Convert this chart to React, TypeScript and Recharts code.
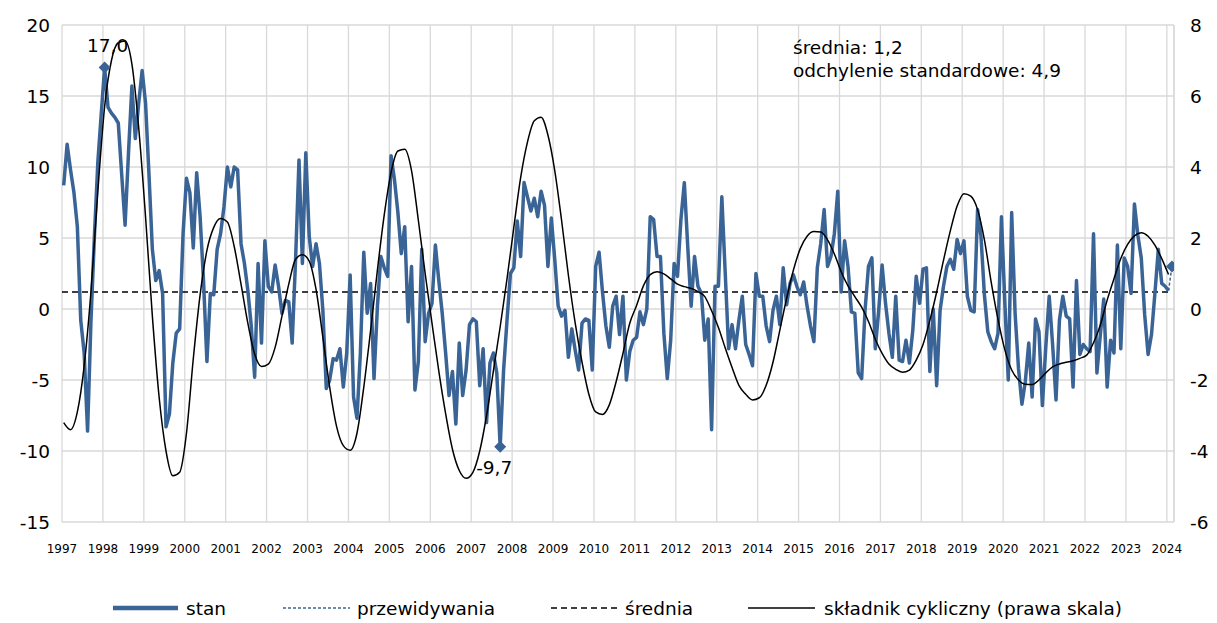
import { CartesianGrid, Line, LineChart, ReferenceLine, XAxis, YAxis } from 'recharts';

const years = [
  '1997', '1998', '1999', '2000', '2001', '2002', '2003', '2004', '2005', '2006',
  '2007', '2008', '2009', '2010', '2011', '2012', '2013', '2014', '2015', '2016',
  '2017', '2018', '2019', '2020', '2021', '2022', '2023', '2024',
];
const leftTicks = [-15, -10, -5, 0, 5, 10, 15, 20];
const rightTicks = [-6, -4, -2, 0, 2, 4, 6, 8];

// stan – monthly, from Jan 1997 to Jan 2024 (left axis)
const stan = [
  8.7, 11.6, 9.8, 8.2, 5.8, -0.8, -3.1, -8.6, -0.8, 5.1, 10.3, 13.7,
  17.0, 14.2, 13.8, 13.5, 13.1, 9.5, 5.9, 11.0, 15.7, 12.0, 14.5, 16.8,
  14.5, 9.5, 4.2, 2.0, 2.7, 1.1, -8.3, -7.4, -3.8, -1.7, -1.4, 5.3,
  9.2, 8.2, 4.3, 9.6, 6.5, 2.0, -3.7, 1.1, 1.0, 4.2, 5.3, 7.2,
  10.0, 8.6, 10.0, 9.8, 4.6, 3.2, 1.3, -1.2, -4.8, 3.2, -2.4, 4.8,
  1.6, 1.2, 3.1, 1.6, -0.3, 0.6, 0.5, -2.4, 3.5, 10.5, 3.2, 11.0,
  5.1, 3.0, 4.6, 3.2, -0.1, -5.6, -5.0, -3.5, -3.6, -2.8, -5.5, -3.1,
  2.4, -6.2, -7.7, -3.1, 4.0, -0.3, 1.8, -4.9, 0.2, 3.7, 2.9, 2.3,
  10.8, 9.1, 6.8, 3.9, 5.8, -0.9, 3.0, -5.7, -3.7, 4.2, -2.3, -0.3,
  0.4, 4.5, 2.0, -0.3, -3.1, -6.1, -4.4, -8.1, -2.4, -6.1, -4.3, -1.1,
  -0.7, -0.9, -5.4, -2.8, -8.0, -3.8, -3.1, -4.5, -9.7, -4.3, -0.8, 2.5,
  2.9, 6.2, 3.7, 8.9, 7.9, 6.9, 7.8, 6.5, 8.3, 7.3, 3.0, 6.4,
  3.5, 0.2, -0.5, -0.1, -3.4, -1.4, -2.9, -4.3, -1.0, -0.7, -0.8, -4.3,
  3.0, 4.0, 1.2, -1.2, -2.7, 0.2, 0.9, -1.8, 0.9, -5.0, -3.0, -2.2,
  -2.0, -0.2, -1.1, 0.0, 6.5, 6.3, 3.7, 3.7, -1.7, -4.9, -2.2, 3.2,
  2.3, 6.3, 8.9, 4.4, 0.2, 3.7, 1.6, 1.1, -2.2, -0.7, -8.5, 1.6,
  1.6, 7.9, 2.5, -2.8, -1.1, -2.8, -0.8, 0.9, -2.5, -3.2, -4.0, 2.5,
  0.9, 0.9, -1.2, -2.3, -0.1, 0.9, -1.1, 2.9, 0.3, 1.8, 2.4, 1.6,
  1.0, 1.9, 0.2, -1.2, -2.3, 2.9, 4.6, 7.0, 3.0, 3.7, 5.3, 8.3,
  1.2, 4.8, 3.0, -0.2, -0.3, -4.5, -4.9, -0.1, 3.0, 3.6, -2.8, -0.1,
  3.1, 0.4, -1.7, -3.4, 0.9, -3.6, -3.7, -2.2, -3.8, -1.5, 2.3, 0.4,
  2.8, 2.9, -4.4, 0.0, -5.4, -0.1, 1.6, 3.0, 3.5, 2.8, 4.9, 3.9,
  4.8, 0.9, -0.1, -0.2, 7.0, 5.1, 1.0, -1.6, -2.3, -2.8, -1.7, 6.5,
  0.4, -5.0, 6.8, -0.3, -4.2, -6.7, -5.1, -2.4, -6.2, -0.7, -1.6, -6.8,
  -2.7, 0.9, -2.5, -6.4, -0.8, 0.9, -0.5, -0.7, -5.5, 2.0, -3.2, -2.5,
  -2.8, -3.0, 5.3, -4.5, -1.8, 0.7, -5.5, -2.2, -3.1, 4.5, -2.8, 3.6,
  3.0, 1.1, 7.4, 5.2, 3.6, -0.4, -3.2, -1.8, 1.1, 4.2, 1.8, 1.6,
  1.3,
];

// składnik cykliczny – every second month from Jan 1997 (right axis)
const cyclical = [
  -3.2, -3.4, -2.9, -1.6, 0.5, 3.3, 5.7, 7.0, 7.5, 7.55, 6.9, 5.1,
  2.6, -0.2, -2.5, -4.0, -4.7, -4.6, -3.5, -1.4, 0.4, 1.65, 2.3, 2.55,
  2.45, 1.76, 0.7, -0.4, -1.27, -1.62, -1.55, -1.08, -0.2, 0.7, 1.4, 1.53,
  1.35, 0.55, -0.8, -2.2, -3.3, -3.85, -3.98, -3.5, -2.2, -0.6, 1.1, 2.65,
  3.85, 4.45, 4.5, 3.9, 2.5, 1.0, -0.4, -1.75, -2.95, -3.95, -4.55, -4.77,
  -4.6, -4.0, -3.0, -1.75, -0.5, 0.85, 2.3, 3.7, 4.7, 5.3, 5.4, 4.9,
  3.9, 2.5, 0.95, -0.4, -1.5, -2.4, -2.9, -2.97, -2.7, -2.05, -1.25, -0.4,
  0.1, 0.65, 0.97, 1.05, 0.99, 0.85, 0.7, 0.63, 0.58, 0.49, 0.35, -0.05,
  -0.52, -1.1, -1.65, -2.15, -2.4, -2.56, -2.5, -2.15, -1.5, -0.6, 0.3, 1.1,
  1.7, 2.05, 2.18, 2.17, 1.95, 1.55, 1.05, 0.65, 0.35, 0.05, -0.35, -0.85,
  -1.25, -1.55, -1.7, -1.78, -1.72, -1.44, -1.0, -0.32, 0.48, 1.37, 2.2, 2.9,
  3.25, 3.18, 2.8, 1.95, 0.75, -0.3, -1.15, -1.72, -2.0, -2.12, -2.13, -2.0,
  -1.8, -1.63, -1.55, -1.5, -1.46, -1.39, -1.3, -0.95, -0.45, 0.25, 0.85, 1.42,
  1.82, 2.06, 2.15, 2.05, 1.8, 1.42, 0.97,
];

// przewidywania – last observed month and the forecast month
const forecast = [1.3, 3.0];
const mean = 1.2;
const sd = 4.9;

const BLUE = '#3A6496';
const GRID = '#D9D9D9';
const FONT = '"DejaVu Sans", Verdana, sans-serif';

const lastMonth = stan.length - 1;
const rows = Array.from({ length: stan.length + forecast.length - 1 }, (_, m) => ({
  m,
  stan: m <= lastMonth ? stan[m] : null,
  cyc: m % 2 === 0 && m / 2 < cyclical.length ? cyclical[m / 2] : null,
  pred: m >= lastMonth ? forecast[m - lastMonth] : null,
}));

const yearTicks = years.map((_, i) => i * 12 - 0.5);
const maxIdx = stan.indexOf(Math.max(...stan));
const minIdx = stan.indexOf(Math.min(...stan));
const fmt = (v: number) => v.toFixed(1).replace('.', ',');

function Diamond({ cx, cy, r = 6 }: { cx: number; cy: number; r?: number }) {
  return <path d={`M${cx},${cy - r}L${cx + r},${cy}L${cx},${cy + r}L${cx - r},${cy}Z`} fill={BLUE} />;
}

const renderStanDot = (props: any) => {
  const { cx, cy, index } = props;
  if (index === maxIdx) {
    return (
      <g key="max">
        <Diamond cx={cx} cy={cy} />
        <text x={cx + 3} y={cy - 22} textAnchor="middle" dominantBaseline="central" fontSize={18.5} fill="#000">
          {fmt(stan[maxIdx])}
        </text>
      </g>
    );
  }
  if (index === minIdx) {
    return (
      <g key="min">
        <Diamond cx={cx} cy={cy} />
        <text x={cx - 6} y={cy + 21} textAnchor="middle" dominantBaseline="central" fontSize={18.5} fill="#000">
          {fmt(stan[minIdx])}
        </text>
      </g>
    );
  }
  return <g key={`s${index}`} />;
};

const renderPredDot = (props: any) => {
  const { cx, cy, index } = props;
  if (index === rows.length - 1 && cy != null) return <Diamond key="pred" cx={cx} cy={cy} />;
  return <g key={`p${index}`} />;
};

function LegendRow() {
  const y = 608;
  return (
    <svg width={1217} height={40} viewBox={`0 ${y - 20} 1217 40`} style={{ position: 'absolute', left: 0, top: y - 20 }}>
      <line x1={113} x2={178} y1={y} y2={y} stroke={BLUE} strokeWidth={4.5} />
      <text x={186} y={y} dominantBaseline="central" fontSize={18.5}>stan</text>
      <line x1={283} x2={350} y1={y} y2={y} stroke={BLUE} strokeWidth={1.5} strokeDasharray="3 2" />
      <text x={357} y={y} dominantBaseline="central" fontSize={18.5}>przewidywania</text>
      <line x1={551} x2={617} y1={y} y2={y} stroke="#000" strokeWidth={1.5} strokeDasharray="6 4" />
      <text x={625} y={y} dominantBaseline="central" fontSize={18.5}>średnia</text>
      <line x1={748} x2={815} y1={y} y2={y} stroke="#000" strokeWidth={1.5} />
      <text x={824} y={y} dominantBaseline="central" fontSize={18.5}>składnik cykliczny (prawa skala)</text>
    </svg>
  );
}

export default function App() {
  return (
    <div style={{ position: 'relative', width: 1217, height: 623, fontFamily: FONT, background: '#fff' }}>
      <style>{'body{margin:0}'}</style>
      <LineChart width={1217} height={623} data={rows} margin={{ top: 25, right: 0, bottom: 71, left: 0 }}>
        <CartesianGrid stroke={GRID} strokeWidth={1.3} yAxisId="left" />
        <XAxis
          dataKey="m"
          type="number"
          domain={[-0.5, 325.6]}
          ticks={yearTicks}
          interval={0}
          tickFormatter={(v: number) => years[Math.round((v + 0.5) / 12)]}
          axisLine={false}
          tickLine={false}
          tickMargin={16}
          height={30}
          tick={{ fontSize: 12, fill: '#000', fontFamily: FONT }}
          allowDataOverflow
        />
        <YAxis
          yAxisId="left"
          domain={[-15, 20]}
          ticks={leftTicks}
          interval={0}
          width={62}
          axisLine={false}
          tickLine={false}
          tickMargin={6}
          tick={{ fontSize: 18.5, fill: '#000', fontFamily: FONT }}
        />
        <YAxis
          yAxisId="right"
          orientation="right"
          domain={[-6, 8]}
          ticks={rightTicks}
          interval={0}
          width={43}
          axisLine={{ stroke: GRID, strokeWidth: 1.3 }}
          tickLine={false}
          tickMargin={10}
          tick={{ fontSize: 18.5, fill: '#000', fontFamily: FONT, textAnchor: 'start' }}
        />
        <ReferenceLine
          yAxisId="left"
          segment={[{ x: -0.5, y: mean }, { x: lastMonth, y: mean }]}
          stroke="#000"
          strokeWidth={1.5}
          strokeDasharray="6 4"
        />
        <Line
          yAxisId="left"
          dataKey="stan"
          type="linear"
          stroke={BLUE}
          strokeWidth={3.5}
          strokeLinejoin="round"
          dot={renderStanDot}
          activeDot={false}
          isAnimationActive={false}
        />
        <Line
          yAxisId="left"
          dataKey="pred"
          type="linear"
          stroke={BLUE}
          strokeWidth={1.5}
          strokeDasharray="3 2"
          dot={renderPredDot}
          activeDot={false}
          isAnimationActive={false}
        />
        <Line
          yAxisId="right"
          dataKey="cyc"
          type="monotone"
          stroke="#000"
          strokeWidth={1.5}
          dot={false}
          activeDot={false}
          connectNulls
          isAnimationActive={false}
        />
      </LineChart>
      <div style={{ position: 'absolute', left: 793, top: 36, fontSize: 18.5, lineHeight: '23px', color: '#000' }}>
        <div>średnia: {fmt(mean)}</div>
        <div>odchylenie standardowe: {fmt(sd)}</div>
      </div>
      <LegendRow />
    </div>
  );
}
